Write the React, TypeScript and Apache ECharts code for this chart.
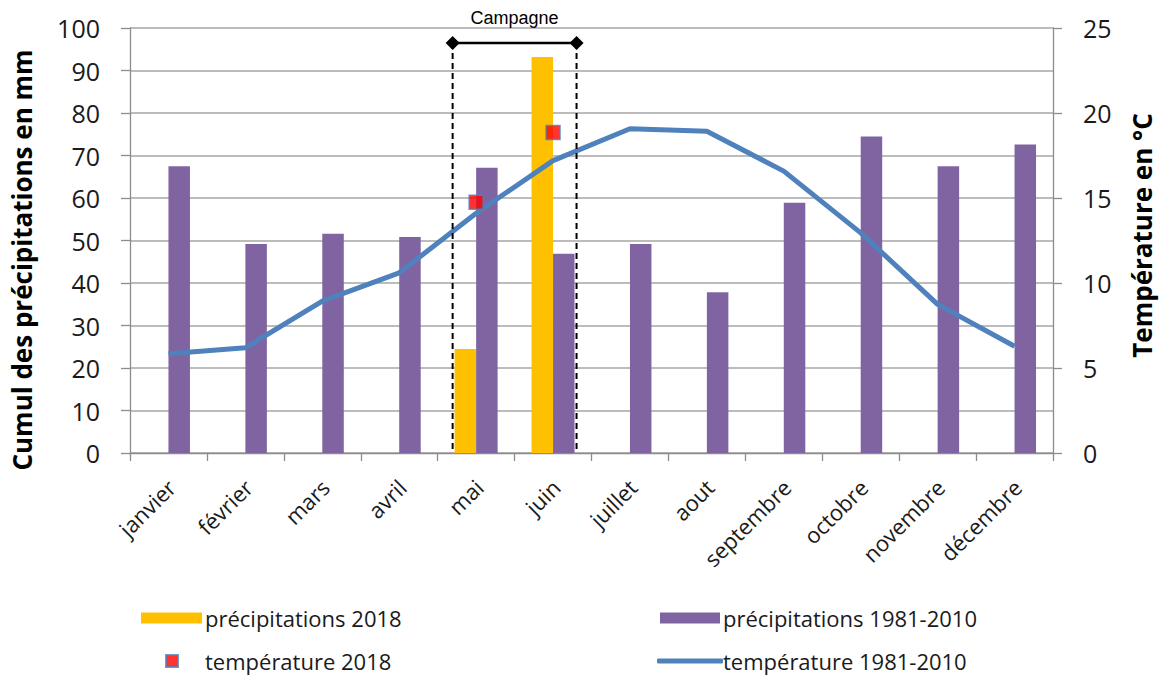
import React, { useEffect, useRef } from "react";
import * as echarts from "echarts";

// Months shown on the category axis
const months = [
  "janvier", "février", "mars", "avril", "mai", "juin",
  "juillet", "aout", "septembre", "octobre", "novembre", "décembre",
];

// Monthly rainfall (mm)
const precip2018 = [null, null, null, null, 24.5, 93.2, null, null, null, null, null, null];
const precipNormal = [67.5, 49.2, 51.6, 50.8, 67.1, 46.9, 49.2, 37.8, 58.9, 74.5, 67.5, 72.6];

// Mean monthly temperature (°C)
const temp2018 = [null, null, null, null, 14.75, 18.85, null, null, null, null, null, null];
const tempNormal = [5.84, 6.19, 8.93, 10.6, 14.1, 17.2, 19.07, 18.93, 16.58, 12.95, 8.74, 6.28];

// Axis ranges
const precipAxis = { min: 0, max: 100, interval: 10 };
const tempAxis = { min: 0, max: 25, interval: 5 };

// Growing season bracket
const seasonStart = "mai";
const seasonEnd = "juin";
const seasonLabel = "Campagne";

const SERIES = {
  p2018: "précipitations 2018",
  pNorm: "précipitations 1981-2010",
  t2018: "température 2018",
  tNorm: "température 1981-2010",
};

const FONT = "'Open Sans', 'Noto Sans', sans-serif";
const TEXT = "#1a1a1a";
const AXIS = "#8c8c8c";
const GRID = "#a6a6a6";
const BAR_W = 21.5;

export default function App() {
  const ref = useRef<HTMLDivElement>(null);

  useEffect(() => {
    if (!ref.current) return;
    const chart = echarts.init(ref.current, null, { renderer: "svg" });

    const legendText = { fontFamily: FONT, fontSize: 22, color: TEXT, lineHeight: 22 };

    chart.setOption({
      animation: false,
      backgroundColor: "#ffffff",
      grid: { left: 130, right: 114, top: 28, bottom: 224, containLabel: false },
      xAxis: {
        type: "category",
        data: months,
        axisLine: { show: true, lineStyle: { color: AXIS, width: 1.3 } },
        axisTick: { show: true, length: 8, lineStyle: { color: AXIS, width: 1.3 } },
        axisLabel: {
          rotate: 45,
          margin: 33,
          padding: [0, -4, 0, 0],
          fontFamily: FONT,
          fontSize: 22,
          color: TEXT,
          interval: 0,
        },
        splitLine: { show: false },
      },
      yAxis: [
        {
          type: "value",
          ...precipAxis,
          name: "Cumul des précipitations en mm",
          nameLocation: "middle",
          nameRotate: 90,
          nameGap: 95,
          nameTextStyle: {
            fontFamily: FONT,
            fontSize: 26,
            fontWeight: "bold",
            color: "#000",
            padding: [0, 39, 0, 0],
          },
          axisLine: { show: true, lineStyle: { color: AXIS, width: 1.3 } },
          axisTick: { show: true, length: 9, lineStyle: { color: AXIS, width: 1.3 } },
          axisLabel: { margin: 30, fontFamily: FONT, fontSize: 25, color: TEXT },
          splitLine: { show: true, lineStyle: { color: GRID, width: 1.5 } },
        },
        {
          type: "value",
          ...tempAxis,
          position: "right",
          name: "Température en °C",
          nameLocation: "middle",
          nameRotate: 90,
          nameGap: 76,
          nameTextStyle: {
            fontFamily: FONT,
            fontSize: 26,
            fontWeight: "bold",
            color: "#000",
            padding: [0, 0, 0, 10],
          },
          axisLine: { show: true, lineStyle: { color: AXIS, width: 1.3 } },
          axisTick: { show: true, length: 9, lineStyle: { color: AXIS, width: 1.3 } },
          axisLabel: { margin: 30, fontFamily: FONT, fontSize: 25, color: TEXT },
          splitLine: { show: false },
        },
      ],
      legend: [
        {
          data: [SERIES.p2018],
          left: 136,
          top: 602,
          itemWidth: 61,
          itemHeight: 11,
          icon: "rect",
          selectedMode: false,
          textStyle: { ...legendText, padding: [0, 0, 0, -2] },
        },
        {
          data: [SERIES.pNorm],
          left: 655,
          top: 602,
          itemWidth: 60,
          itemHeight: 11,
          icon: "rect",
          selectedMode: false,
          textStyle: { ...legendText, padding: [0, 0, 0, -2] },
        },
        {
          data: [SERIES.t2018],
          left: 160,
          top: 645,
          itemWidth: 12,
          itemHeight: 12,
          icon: "rect",
          selectedMode: false,
          textStyle: { ...legendText, padding: [0, 0, 0, 22] },
        },
        {
          data: [SERIES.tNorm],
          left: 652,
          top: 645,
          itemWidth: 66,
          itemHeight: 5,
          icon: "roundRect",
          selectedMode: false,
          textStyle: { ...legendText, padding: [0, 0, 0, -5] },
        },
      ],
      series: [
        {
          name: SERIES.p2018,
          type: "bar",
          data: precip2018,
          barWidth: BAR_W,
          barGap: "0%",
          itemStyle: { color: "#FFC000" },
        },
        {
          name: SERIES.pNorm,
          type: "bar",
          data: precipNormal,
          barWidth: BAR_W,
          barGap: "0%",
          itemStyle: { color: "#8064A2" },
        },
        {
          name: SERIES.tNorm,
          type: "line",
          yAxisIndex: 1,
          data: tempNormal,
          showSymbol: false,
          symbol: "none",
          lineStyle: { color: "#4F81BD", width: 5 },
          itemStyle: { color: "#4F81BD" },
          z: 5,
        },
        {
          name: SERIES.t2018,
          type: "scatter",
          yAxisIndex: 1,
          data: temp2018,
          symbol: "rect",
          symbolSize: 14,
          itemStyle: { color: "#FF0000", borderColor: "#4F81BD", borderWidth: 1.5 },
          z: 6,
        },
      ],
    });

    // Bracket marking the growing season, placed from the axis scales
    const xStart = chart.convertToPixel({ xAxisIndex: 0 }, seasonStart) - BAR_W - 2;
    const xEnd = chart.convertToPixel({ xAxisIndex: 0 }, seasonEnd) + BAR_W + 2;
    const yBase = chart.convertToPixel({ yAxisIndex: 0 }, precipAxis.min);
    const yBar = chart.convertToPixel({ yAxisIndex: 0 }, precipAxis.max) + 15;
    const diamond = (x: number) => ({
      type: "polygon",
      z: 101,
      shape: { points: [[x, yBar - 7], [x + 7, yBar], [x, yBar + 7], [x - 7, yBar]] },
      style: { fill: "#000" },
    });

    chart.setOption({
      graphic: [
        {
          type: "line",
          z: 100,
          shape: { x1: xStart, y1: yBar, x2: xStart, y2: yBase },
          style: { stroke: "#000", lineWidth: 2, lineDash: [6, 4] },
        },
        {
          type: "line",
          z: 100,
          shape: { x1: xEnd, y1: yBar, x2: xEnd, y2: yBase },
          style: { stroke: "#000", lineWidth: 2, lineDash: [6, 4] },
        },
        {
          type: "line",
          z: 100,
          shape: { x1: xStart, y1: yBar, x2: xEnd, y2: yBar },
          style: { stroke: "#000", lineWidth: 2.5 },
        },
        diamond(xStart),
        diamond(xEnd),
        {
          type: "text",
          z: 100,
          x: (xStart + xEnd) / 2,
          y: 18,
          style: {
            text: seasonLabel,
            font: "18px 'Liberation Sans', Arial, sans-serif",
            fill: "#000",
            align: "center",
            verticalAlign: "middle",
          },
        },
      ],
    });

    return () => chart.dispose();
  }, []);

  return (
    <div
      ref={ref}
      style={{ position: "absolute", left: 0, top: 0, width: 1167, height: 677 }}
    />
  );
}
